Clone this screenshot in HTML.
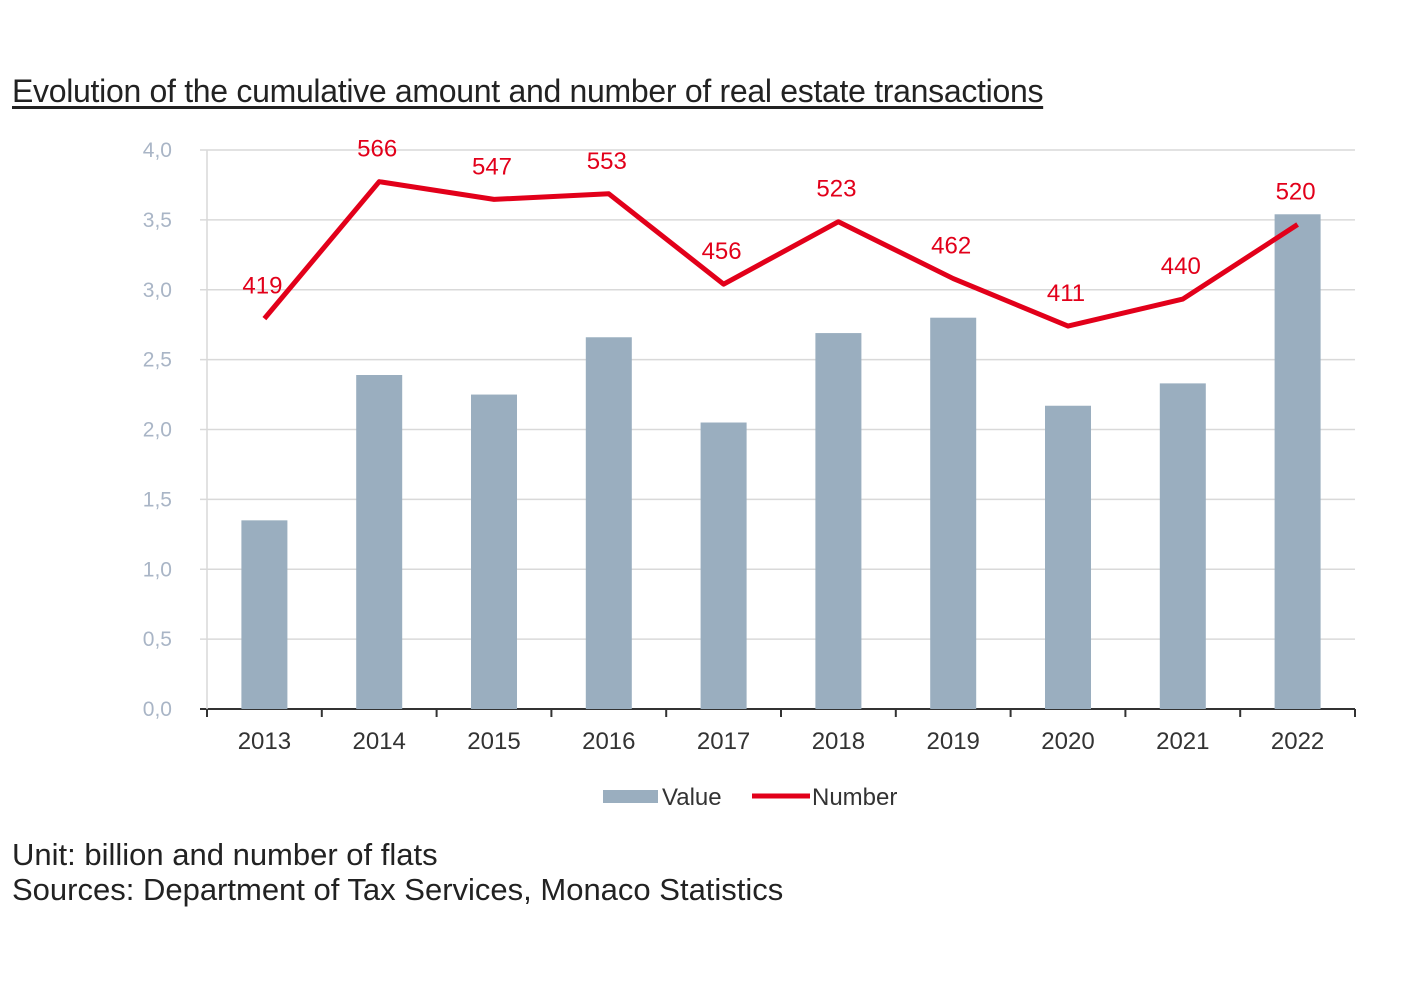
<!DOCTYPE html>
<html><head><meta charset="utf-8"><style>
body{margin:0;background:#fff;width:1420px;height:1000px;overflow:hidden;font-family:"Liberation Sans",sans-serif;}
.t{position:absolute;color:#222;white-space:nowrap}
</style></head><body>
<div class="t" style="left:12px;top:73px;font-size:32px;text-decoration:underline;text-underline-offset:4px;letter-spacing:-0.3px">Evolution of the cumulative amount and number of real estate transactions</div>
<svg id="c" width="1420" height="1000" style="position:absolute;left:0;top:0"></svg>
<div class="t" style="left:12px;top:837px;font-size:31px">Unit: billion and number of flats</div>
<div class="t" style="left:12px;top:872px;font-size:31px">Sources: Department of Tax Services, Monaco Statistics</div>
<script>
const years=["2013","2014","2015","2016","2017","2018","2019","2020","2021","2022"];
const values=[1.35,2.39,2.25,2.66,2.05,2.69,2.80,2.17,2.33,3.54];
const numbers=[419,566,547,553,456,523,462,411,440,520];
const yTicks=["0,0","0,5","1,0","1,5","2,0","2,5","3,0","3,5","4,0"];
const svg=document.getElementById('c');
const NS='http://www.w3.org/2000/svg';
const x0=207,x1=1355,yB=709,yT=150;
const bw=(x1-x0)/years.length;
const yV=v=>yB-(v/4)*(yB-yT);
const yN=v=>yB-(v/600)*(yB-yT);
const xc=i=>x0+bw*(i+0.5);
function el(t,a,p){const e=document.createElementNS(NS,t);for(const k in a)e.setAttribute(k,a[k]);(p||svg).appendChild(e);return e;}
yTicks.forEach((lab,i)=>{const y=yV(i*0.5);
 const g=el('line',{x1:200,x2:x1,y1:y,y2:y,stroke:i?'#d9d9d9':'#333','stroke-width':i?1.5:2});
 
 
 const t=el('text',{x:172,y:y+7,'font-size':21,fill:'#a9b5c6','text-anchor':'end'});t.textContent=lab;
 
 
});
el('line',{x1:x0,x2:x0,y1:yT,y2:yB,stroke:'#d9d9d9','stroke-width':1.5});
for(let i=0;i<=years.length;i++){const x=x0+bw*i;el('line',{x1:x,x2:x,y1:yB,y2:yB+8,stroke:'#333','stroke-width':2});}
values.forEach((v,i)=>{const r=el('rect',{x:xc(i)-23,y:yV(v),width:46,height:yB-yV(v),fill:'#9aaebf'});
 
 
 const t=el('text',{x:xc(i),y:yB+40,'font-size':24,fill:'#333','text-anchor':'middle'});t.textContent=years[i];
 
 
});
const pl=el('polyline',{points:numbers.map((n,i)=>xc(i)+','+yN(n)).join(' '),fill:'none',stroke:'#e2001a','stroke-width':5,'stroke-linejoin':'round'});


numbers.forEach((n,i)=>{const t=el('text',{x:xc(i)-2,y:yN(n)-25,'font-size':24,fill:'#e2001a','text-anchor':'middle'});t.textContent=n;
 
 
});
const lg=el('g',{});


el('rect',{x:603,y:790,width:55,height:13,fill:'#9aaebf'},lg);
const t1=el('text',{x:662,y:805,'font-size':24,fill:'#333'},lg);t1.textContent='Value';
el('line',{x1:752,x2:810,y1:796,y2:796,stroke:'#e2001a','stroke-width':5},lg);
const t2=el('text',{x:812,y:805,'font-size':24,fill:'#333'},lg);t2.textContent='Number';
</script>
</body></html>
